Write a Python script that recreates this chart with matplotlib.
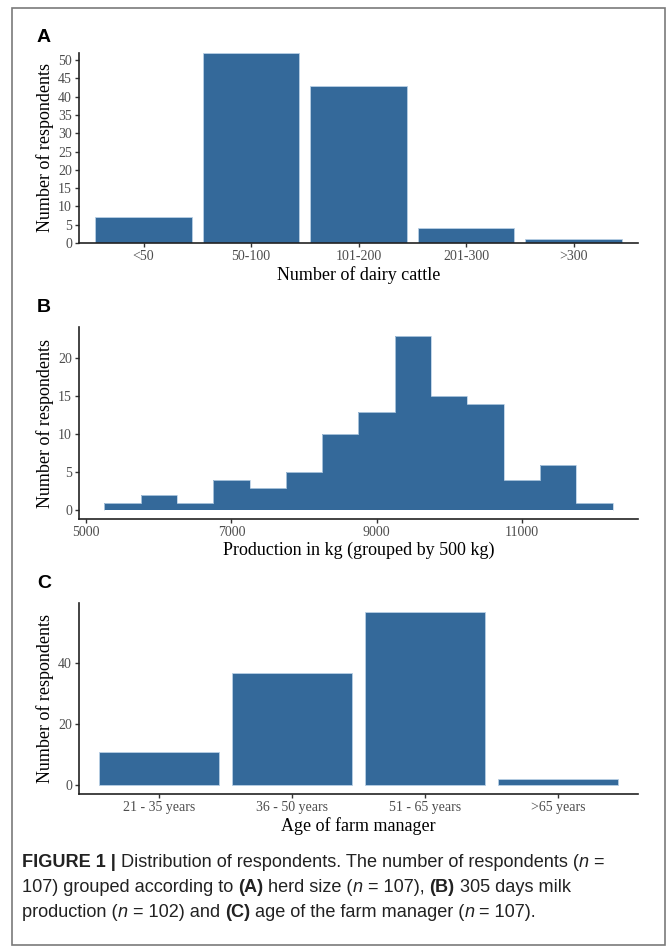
import matplotlib
matplotlib.use('Agg')
import matplotlib.pyplot as plt
from matplotlib.patches import Rectangle

# dados
herd_cats = ['<50', '50-100', '101-200', '201-300', '>300']
herd_counts = [7, 52, 43, 4, 1]

prod_edges = [5250, 5750, 6250, 6750, 7250, 7750, 8250, 8750, 9250, 9750,
              10250, 10750, 11250, 11750, 12250]
prod_counts = [1, 2, 1, 4, 3, 5, 10, 13, 23, 15, 14, 4, 6, 1]
prod_ticks = [5000, 7000, 9000, 11000]

age_cats = ['21 - 35 years', '36 - 50 years', '51 - 65 years', '>65 years']
age_counts = [11, 37, 57, 2]

cor = '#34699a'
borda = '#b8cfe4'
serif = 'Liberation Serif'
sans = 'Liberation Sans'

W, H = 667, 947
fig = plt.figure(figsize=(W / 100, H / 100), dpi=100)


def eixo(top, bottom):
    ax = fig.add_axes([79 / W, 1 - bottom / H, 559 / W, (bottom - top) / H])
    for s in ['top', 'right']:
        ax.spines[s].set_visible(False)
    for s in ['left', 'bottom']:
        ax.spines[s].set_linewidth(1.2)
        ax.spines[s].set_color('#222222')
    ax.tick_params(axis='both', length=3, width=1.0, color='#333333',
                   labelsize=10, labelcolor='#4d4d4d', pad=2)
    return ax


def estilo(ax):
    for lab in ax.get_xticklabels() + ax.get_yticklabels():
        lab.set_family(serif)
    ax.set_ylabel('Number of respondents', family=serif, fontsize=13, labelpad=3)


# painel A
axA = eixo(52.7, 243)
xA = list(range(1, len(herd_cats) + 1))
axA.bar(xA, herd_counts, width=0.9, color=cor, edgecolor=borda, linewidth=0.6)
axA.set_xticks(xA)
axA.set_xticklabels(herd_cats)
axA.set_xlim(0.4, len(herd_cats) + 0.6)
axA.set_ylim(0, 52)
axA.set_yticks(range(0, 51, 5))
axA.set_xlabel('Number of dairy cattle', family=serif, fontsize=13, labelpad=2)
estilo(axA)

# painel B
axB = eixo(327, 519)
axB.bar(prod_edges[:-1], prod_counts, width=500, align='edge', color=cor, linewidth=0)
axB.stairs(prod_counts, prod_edges, color=borda, linewidth=0.6)
axB.set_xlim(4900, 12600)
axB.set_ylim(-1.15, 24.15)
axB.set_xticks(prod_ticks)
axB.set_yticks([0, 5, 10, 15, 20])
axB.set_xlabel('Production in kg (grouped by 500 kg)', family=serif, fontsize=13, labelpad=2)
estilo(axB)

# painel C
axC = eixo(603, 794)
xC = list(range(1, len(age_cats) + 1))
axC.bar(xC, age_counts, width=0.9, color=cor, edgecolor=borda, linewidth=0.6)
axC.set_xticks(xC)
axC.set_xticklabels(age_cats)
axC.set_xlim(0.4, len(age_cats) + 0.6)
axC.set_ylim(-2.85, 59.85)
axC.set_yticks([0, 20, 40])
axC.set_xlabel('Age of farm manager', family=serif, fontsize=13, labelpad=2)
estilo(axC)

# letras dos paineis
for letra, y in [('A', 38), ('B', 307), ('C', 583)]:
    fig.text(37 / W, 1 - y / H, letra, family=sans, fontweight='bold',
             fontsize=14, va='center', ha='left')

# moldura
fig.patches.append(Rectangle((12 / W, 1 - 945 / H), 653 / W, 937 / H,
                             transform=fig.transFigure, fill=False,
                             edgecolor='#7a7a7a', linewidth=1.2))

# legenda da figura com trechos em negrito e italico
linhas = [
    [('FIGURE 1 | ', 'bold', 'normal'),
     ('Distribution of respondents. The number of respondents (', 'normal', 'normal'),
     ('n', 'normal', 'italic'), (' =', 'normal', 'normal')],
    [('107) grouped according to ', 'normal', 'normal'), ('(A)', 'bold', 'normal'),
     (' herd size (', 'normal', 'normal'), ('n', 'normal', 'italic'),
     (' = 107), ', 'normal', 'normal'), ('(B)', 'bold', 'normal'),
     (' 305 days milk', 'normal', 'normal')],
    [('production (', 'normal', 'normal'), ('n', 'normal', 'italic'),
     (' = 102) and ', 'normal', 'normal'), ('(C)', 'bold', 'normal'),
     (' age of the farm manager (', 'normal', 'normal'), ('n', 'normal', 'italic'),
     (' = 107).', 'normal', 'normal')],
]
ys = [862, 887, 912]
renderer = fig.canvas.get_renderer()
for linha, y in zip(linhas, ys):
    x = 22
    for txt, peso, estilo_f in linha:
        t = fig.text(x / W, 1 - y / H, txt, family=sans, fontsize=13.1,
                     fontweight=peso, fontstyle=estilo_f, va='center', ha='left',
                     color='#222222')
        bb = t.get_window_extent(renderer=renderer)
        x += bb.width

fig.savefig('out.png', dpi=100)
